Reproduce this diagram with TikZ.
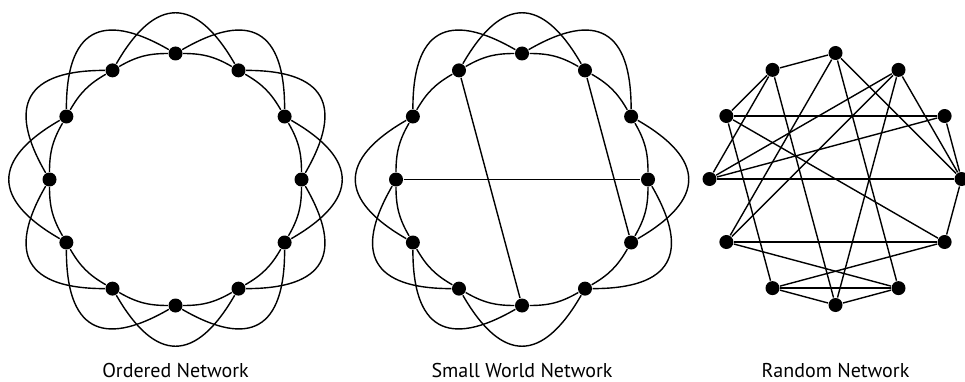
\documentclass[tikz,border=0pt]{standalone}
\usepackage{fontspec}
\setmainfont{PT Sans}
\begin{document}
\begin{tikzpicture}[x=1pt,y=1pt,line width=1.4pt,
  dot/.style={circle,fill=black,inner sep=0pt,minimum size=14pt},
  ring/.style={bend right=15},
  petal/.style={looseness=1.7},
  lbl/.style={anchor=base,font=\fontsize{20}{24}\selectfont}]
\useasboundingbox (0,0) rectangle (965,381);
% ordered network
\foreach \k in {0,...,11}
  \node[dot] (o\k) at ([shift={(175.5,201.5)}]30*\k:126) {};
\foreach \k in {0,...,11}{
  \pgfmathtruncatemacro{\a}{mod(\k+1,12)}
  \pgfmathtruncatemacro{\b}{mod(\k+2,12)}
  \pgfmathtruncatemacro{\p}{30*\k+60}
  \pgfmathtruncatemacro{\q}{30*\k}
  \draw (o\k) to[ring] (o\a);
  \draw (o\k) to[out=\p,in=\q,petal] (o\b);
}
\node[lbl] (tOrd) at (175.5,4) {Ordered Network};
% small world network
\foreach \k in {0,...,11}
  \node[dot] (s\k) at ([shift={(522,201.5)}]30*\k:126) {};
\foreach \k in {0,...,11}{
  \pgfmathtruncatemacro{\a}{mod(\k+1,12)}
  \draw (s\k) to[ring] (s\a);
}
\foreach \k in {1,2,3,5,6,7,8,10,11}{
  \pgfmathtruncatemacro{\b}{mod(\k+2,12)}
  \pgfmathtruncatemacro{\p}{30*\k+60}
  \pgfmathtruncatemacro{\q}{30*\k}
  \draw (s\k) to[out=\p,in=\q,petal] (s\b);
}
\draw (s4) -- (s9);
\draw (s6) -- (s0);
\draw (s2) -- (s11);
\node[lbl] (tSmall) at (522,4) {Small World Network};
% random network
\foreach \k in {0,...,11}
  \node[dot] (r\k) at ([shift={(835.5,202)}]30*\k:126) {};
\foreach \i/\j in {3/4,4/5,4/6,4/9,3/7,3/10,3/0,2/6,2/7,2/9,2/0,5/1,
                   5/11,5/8,1/6,1/0,6/0,0/11,7/11,7/10,8/10,8/9,9/10,8/11}
  \draw (r\i) -- (r\j);
\node[lbl] (tRand) at (835.5,4) {Random Network};
\end{tikzpicture}
\end{document}
